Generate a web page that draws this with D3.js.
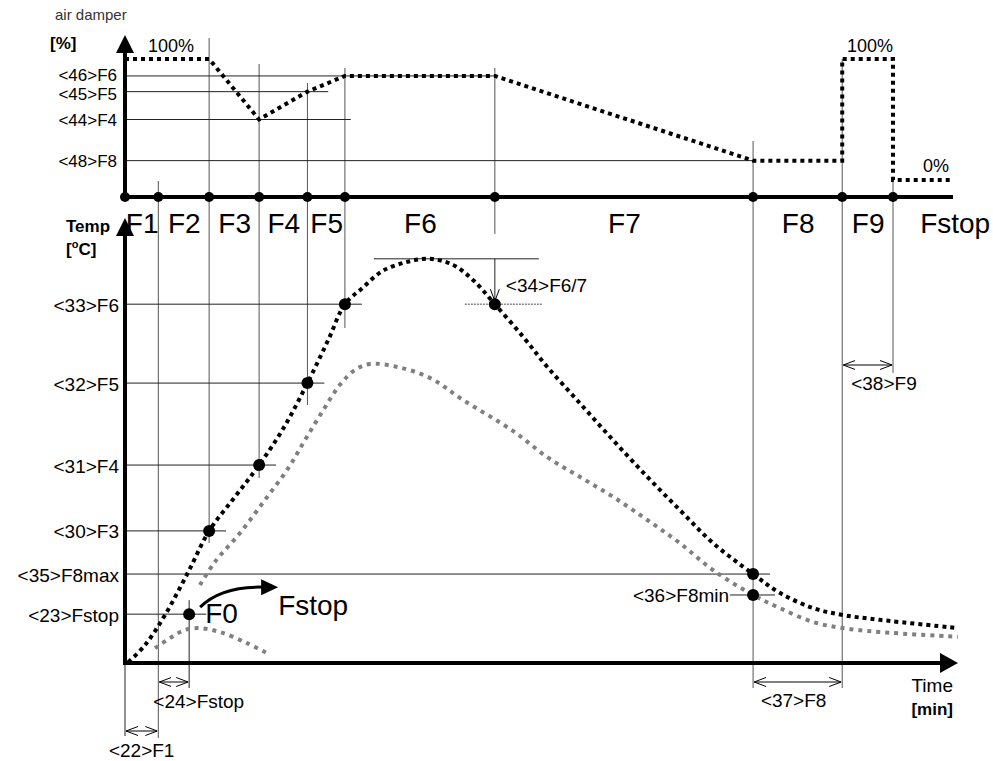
<!DOCTYPE html>
<html>
<head>
<meta charset="utf-8">
<script src="https://cdn.jsdelivr.net/npm/d3@7"></script>
<style>
body { margin: 0; background: #fff; }
text { font-family: Arial, "Liberation Sans", sans-serif; fill: #000; }
</style>
</head>
<body>
<div id="chart"></div>
<script>
// burner phases and where each one starts (time units)
var phaseNames = ["F1", "F2", "F3", "F4", "F5", "F6", "F7", "F8", "F9", "Fstop"];
var phaseStart = [0, 4.0, 10.1, 16.1, 21.9, 26.4, 44.4, 75.4, 86.1, 92.2];
var phaseEnd = 107;

// air damper set points [%]
var damperLabels = ["<46>F6", "<45>F5", "<44>F4", "<48>F8"];
var damperLevels = [86, 73, 50, 16];
var damperTime  = [0, 10.1, 16.1, 21.9, 26.4, 44.4, 75.4, 86.1, 86.1, 92.2, 92.2, 99.4];
var damperValue = [100, 100, 50, 73, 86, 86, 16, 16, 100, 100, 0, 0];

// temperature thresholds and the time they are reached
var tempLabels = ["<33>F6", "<32>F5", "<31>F4", "<30>F3", "<35>F8max", "<23>Fstop"];
var tempLevels = [82.3, 64.2, 45.4, 30.3, 20.4, 11.2];
var tempReached = [26.4, 21.9, 16.1, 10.1, 75.4, 7.7];
var peakTemp = 92.7;
var f8minTemp = 15.6;

// flue gas temperature (black dotted)
var flueTime = [0.4, 2.4, 4.8, 7.6, 10.1, 13.2, 16.1, 19.1, 21.9, 24.4, 26.4, 28.5, 30.9, 33.9, 36.6, 39.4, 41.8, 44.4, 47.8, 50.7, 54.6, 58.6, 62.7, 66.6, 70.6, 75.4, 78.6, 82.6, 86.2, 90.6, 100];
var flueTemp = [0.2, 4.1, 11.0, 20.9, 30.3, 38.1, 45.4, 54.1, 64.2, 74.1, 82.3, 86.0, 89.9, 92.0, 92.7, 91.3, 87.8, 82.3, 74.8, 67.9, 59.6, 51.1, 42.7, 35.1, 27.5, 20.4, 16.1, 12.6, 11.0, 9.9, 8.0];

// second temperature (grey dotted)
var greyTime = [9.0, 10.8, 13.8, 16.8, 19.6, 21.6, 23.8, 25.8, 27.6, 29.4, 32.7, 36.6, 40.6, 46.6, 50.7, 54.6, 58.6, 62.7, 66.6, 70.6, 75.4, 78.6, 82.6, 86.2, 90.6, 100];
var greyTemp = [17.9, 23.2, 29.8, 37.4, 44.7, 51.1, 58.0, 63.8, 67.2, 68.6, 67.9, 65.4, 60.3, 53.2, 47.2, 42.7, 38.1, 32.8, 27.5, 21.3, 15.6, 12.6, 9.4, 8.0, 7.1, 6.0];

// failed start (grey dotted, F0)
var failTime = [3.6, 5.4, 7.2, 9.0, 11.4, 14.6, 17.0];
var failTemp = [3.4, 5.7, 7.6, 8.0, 7.1, 4.6, 2.3];

var width = 993, height = 761;

var svg = d3.select("#chart").append("svg")
    .attr("width", width)
    .attr("height", height);

var x = d3.scaleLinear().domain([0, 100]).range([125, 958]);
var yDamper = d3.scaleLinear().domain([0, 100]).range([180, 59]);
var yTemp = d3.scaleLinear().domain([0, 100]).range([663, 227]);

var axisY = 197, x0 = x(0);

// markers for the dimension arrows
svg.append("defs").append("marker")
    .attr("id", "open")
    .attr("viewBox", "0 -5 12 10")
    .attr("refX", 12).attr("refY", 0)
    .attr("markerWidth", 12).attr("markerHeight", 10)
    .attr("markerUnits", "userSpaceOnUse")
    .attr("orient", "auto-start-reverse")
  .append("path")
    .attr("d", "M0,-4.5L12,0L0,4.5")
    .attr("fill", "none").attr("stroke", "#000").attr("stroke-width", 1);

var guides = svg.append("g");

// vertical phase guides (top, bottom in px)
var guideTop = [181, 38, 64, 83, 68, 68, 141, 59, 180];
var guideBottom = [738, 543, 478, 405, 328, 234, 688, 688, 373];
phaseStart.slice(1).forEach(function(t, i) {
    guides.append("line")
        .attr("x1", x(t)).attr("x2", x(t))
        .attr("y1", guideTop[i]).attr("y2", guideBottom[i])
        .attr("stroke", "#555").attr("stroke-width", 1);
});

// damper guide lines
var damperGuideEnd = [44.4, 24.4, 27.1, 75.4];
damperLevels.forEach(function(v, i) {
    guides.append("line")
        .attr("x1", x0).attr("x2", x(damperGuideEnd[i]))
        .attr("y1", yDamper(v)).attr("y2", yDamper(v))
        .attr("stroke", "#222").attr("stroke-width", 1);
});

// temperature guide lines
tempLevels.forEach(function(v, i) {
    guides.append("line")
        .attr("x1", x0).attr("x2", x(tempReached[i]) + 17)
        .attr("y1", yTemp(v)).attr("y2", yTemp(v))
        .attr("stroke", "#222").attr("stroke-width", 1);
});

// F0 vertical
var f0x = x(tempReached[5]), f0y = yTemp(tempLevels[5]);
guides.append("line")
    .attr("x1", f0x).attr("x2", f0x).attr("y1", f0y - 14).attr("y2", 688)
    .attr("stroke", "#222");

// <34> F6/7 annotation
var f67x = x(phaseStart[6]);
guides.append("line")
    .attr("x1", f67x - 121).attr("x2", f67x + 44)
    .attr("y1", yTemp(peakTemp)).attr("y2", yTemp(peakTemp))
    .attr("stroke", "#222");
guides.append("line")
    .attr("x1", f67x).attr("x2", f67x)
    .attr("y1", yTemp(peakTemp)).attr("y2", yTemp(tempLevels[0]) - 3)
    .attr("stroke", "#222")
    .attr("marker-end", "url(#open)");
guides.append("line")
    .attr("x1", f67x - 30).attr("x2", f67x + 47)
    .attr("y1", yTemp(tempLevels[0])).attr("y2", yTemp(tempLevels[0]))
    .attr("stroke", "#888").attr("stroke-width", 1.5)
    .attr("stroke-dasharray", "2,1");
svg.append("text").attr("x", f67x + 11).attr("y", 292)
    .style("font-size", "19px").text("<34>F6/7");

// <36> F8min
var f8x = x(phaseStart[7]);
guides.append("line")
    .attr("x1", f8x - 23).attr("x2", f8x + 22)
    .attr("y1", yTemp(f8minTemp)).attr("y2", yTemp(f8minTemp))
    .attr("stroke", "#222");
svg.append("text").attr("x", f8x - 24).attr("y", yTemp(f8minTemp) + 7)
    .attr("text-anchor", "end").style("font-size", "19px").text("<36>F8min");

// dimension arrows
function dimension(t1, t2, y, label, lx, ly, anchor) {
    guides.append("line")
        .attr("x1", x(t1) + 1).attr("x2", x(t2) - 1)
        .attr("y1", y).attr("y2", y)
        .attr("stroke", "#000").attr("stroke-width", 1)
        .attr("marker-start", "url(#open)")
        .attr("marker-end", "url(#open)");
    svg.append("text").attr("x", lx).attr("y", ly)
        .attr("text-anchor", anchor)
        .style("font-size", "19px").text(label);
}
guides.append("line").attr("x1", x0).attr("x2", x0).attr("y1", 663).attr("y2", 736).attr("stroke", "#222");
dimension(0, phaseStart[1], 731, "<22>F1", (x(0) + x(phaseStart[1])) / 2, 757, "middle");
dimension(phaseStart[1], tempReached[5], 682, "<24>Fstop", x(phaseStart[1]) - 5, 708, "start");
dimension(phaseStart[7], phaseStart[8], 682, "<37>F8", (x(phaseStart[7]) + x(phaseStart[8])) / 2 - 4, 707, "middle");
dimension(phaseStart[8], phaseStart[9], 365, "<38>F9", x(phaseStart[8]) + 9, 390, "start");

// curves
var line = d3.line().x(function(d) { return x(d[0]); }).y(function(d) { return yTemp(d[1]); })
    .curve(d3.curveCatmullRom.alpha(0.5));

svg.append("path")
    .datum(d3.zip(greyTime, greyTemp))
    .attr("d", line)
    .attr("fill", "none").attr("stroke", "#808080")
    .attr("stroke-width", 4).attr("stroke-dasharray", "4,5");

svg.append("path")
    .datum(d3.zip(failTime, failTemp))
    .attr("d", line)
    .attr("fill", "none").attr("stroke", "#808080")
    .attr("stroke-width", 4).attr("stroke-dasharray", "4,5");

svg.append("path")
    .datum(d3.zip(flueTime, flueTemp))
    .attr("d", line)
    .attr("fill", "none").attr("stroke", "#000")
    .attr("stroke-width", 4).attr("stroke-dasharray", "4,4");

// damper line
svg.append("path")
    .datum(d3.zip(damperTime, damperValue))
    .attr("d", d3.line().x(function(d) { return x(d[0]); }).y(function(d) { return yDamper(d[1]); }))
    .attr("fill", "none").attr("stroke", "#000")
    .attr("stroke-width", 4).attr("stroke-dasharray", "4,4");

// dots on temperature curve
var dots = tempLevels.slice(0, 5).map(function(v, i) { return [tempReached[i], v]; });
dots.push([phaseStart[6], tempLevels[0]]);
dots.push([phaseStart[7], f8minTemp]);
dots.push([tempReached[5], tempLevels[5]]);
svg.selectAll(".tdot").data(dots).enter().append("circle")
    .attr("cx", function(d) { return x(d[0]); })
    .attr("cy", function(d) { return yTemp(d[1]); })
    .attr("r", 6).attr("fill", "#000");

// F0 -> Fstop arrow
svg.append("path")
    .attr("d", "M" + (f0x + 11) + "," + (f0y - 7) + " Q" + (f0x + 32) + "," + (f0y - 28) + " " + (f0x + 74) + "," + (f0y - 27))
    .attr("fill", "none").attr("stroke", "#000").attr("stroke-width", 3);
svg.append("path")
    .attr("d", "M" + (f0x + 89) + "," + (f0y - 27) + "L" + (f0x + 72) + "," + (f0y - 35) + "L" + (f0x + 72) + "," + (f0y - 19) + "Z")
    .attr("fill", "#000");
svg.append("text").attr("x", f0x + 16).attr("y", f0y + 9).style("font-size", "28px").text("F0");
svg.append("text").attr("x", f0x + 89).attr("y", f0y + 1).style("font-size", "28px").text("Fstop");

// phase axis (top)
var mids = phaseStart.map(function(t, i) {
    return (t + (i < phaseStart.length - 1 ? phaseStart[i + 1] : phaseEnd)) / 2;
});
var phaseAxis = svg.append("g")
    .attr("transform", "translate(0," + axisY + ")")
    .call(d3.axisBottom(x).tickValues(mids)
        .tickFormat(function(d, i) { return phaseNames[i]; })
        .tickSize(0).tickSizeOuter(0));
phaseAxis.select(".domain").attr("stroke-width", 4).attr("d", "M" + x0 + ",0H" + x(99.4));
phaseAxis.selectAll("text").attr("y", 36).attr("dy", 0)
    .style("font-size", "28px").style("font-family", "Arial, 'Liberation Sans', sans-serif");

svg.selectAll(".pdot").data(phaseStart).enter().append("circle")
    .attr("cx", function(d) { return x(d); }).attr("cy", axisY)
    .attr("r", 5).attr("fill", "#000");

// damper axis (first two labels nudged apart, they sit very close)
var labelNudge = [-2, 2, 0, 0];
var dAxis = svg.append("g")
    .attr("transform", "translate(" + x0 + ",0)")
    .call(d3.axisLeft(yDamper).tickValues(damperLevels)
        .tickFormat(function(d, i) { return damperLabels[i]; })
        .tickSize(0).tickPadding(8));
dAxis.select(".domain").remove();
dAxis.selectAll("text")
    .attr("dy", "0.37em")
    .attr("y", function(d, i) { return labelNudge[i]; })
    .style("font-size", "17px").style("font-family", "Arial, 'Liberation Sans', sans-serif");
svg.append("line").attr("x1", x0).attr("x2", x0).attr("y1", axisY).attr("y2", 50)
    .attr("stroke", "#000").attr("stroke-width", 4);
svg.append("path").attr("d", "M125,35L134,53L116,53Z").attr("fill", "#000");

// temperature axis
var tAxis = svg.append("g")
    .attr("transform", "translate(" + x0 + ",0)")
    .call(d3.axisLeft(yTemp).tickValues(tempLevels)
        .tickFormat(function(d, i) { return tempLabels[i]; })
        .tickSize(0).tickPadding(6));
tAxis.select(".domain").remove();
tAxis.selectAll("text").attr("dy", "0.37em")
    .style("font-size", "19px").style("font-family", "Arial, 'Liberation Sans', sans-serif");
svg.append("line").attr("x1", x0).attr("x2", x0).attr("y1", yTemp(0) + 2).attr("y2", 234)
    .attr("stroke", "#000").attr("stroke-width", 4);
svg.append("path").attr("d", "M125,218L134,236L116,236Z").attr("fill", "#000");

// time axis
svg.append("line").attr("x1", x0).attr("x2", 942).attr("y1", yTemp(0)).attr("y2", yTemp(0))
    .attr("stroke", "#000").attr("stroke-width", 4);
svg.append("path").attr("d", "M958,663L940,653L940,673Z").attr("fill", "#000");

// titles and percent labels
svg.append("text").attr("x", 55).attr("y", 20).style("font-size", "15px").style("fill", "#333").text("air damper");
svg.append("text").attr("x", 50).attr("y", 49).style("font-size", "17px").style("font-weight", "bold").text("[%]");
svg.append("text").attr("x", 148).attr("y", 52).style("font-size", "18px").text("100%");
svg.append("text").attr("x", 847).attr("y", 52).style("font-size", "18px").text("100%");
svg.append("text").attr("x", 923).attr("y", 172).style("font-size", "18px").text("0%");

svg.append("text").attr("x", 66).attr("y", 232).style("font-size", "17px").style("font-weight", "bold").text("Temp");
var degC = svg.append("text").attr("x", 66).attr("y", 255).style("font-size", "17px").style("font-weight", "bold");
degC.append("tspan").text("[");
degC.append("tspan").attr("dy", -7).style("font-size", "11px").text("o");
degC.append("tspan").attr("dy", 7).text("C]");

svg.append("text").attr("x", 953).attr("y", 692).attr("text-anchor", "end").style("font-size", "19px").text("Time");
svg.append("text").attr("x", 953).attr("y", 715).attr("text-anchor", "end").style("font-size", "17px").style("font-weight", "bold").text("[min]");
</script>
</body>
</html>
